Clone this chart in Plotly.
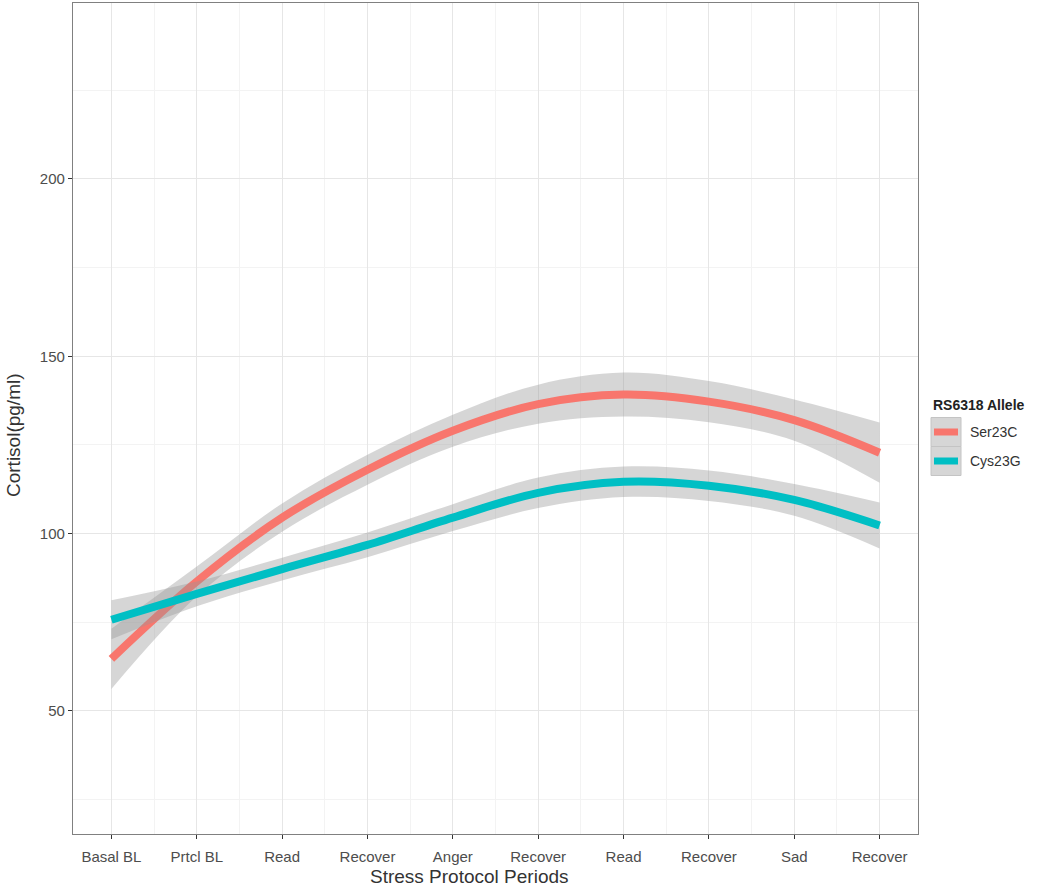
import plotly.graph_objects as go

# ---- data ----
periods = ["Basal BL", "Prtcl BL", "Read", "Recover", "Anger", "Recover", "Read", "Recover", "Sad", "Recover"]
ser_mean = [64.7, 86.5, 104.5, 118.0, 129.0, 136.5, 139.2, 137.2, 132.0, 122.8]
ser_half = [8.5, 4.2, 4.0, 4.2, 4.5, 5.5, 6.2, 5.8, 5.8, 8.5]
cys_mean = [75.7, 83.0, 90.0, 96.8, 104.5, 111.5, 114.6, 113.5, 109.5, 102.3]
cys_half = [5.5, 3.5, 3.2, 3.5, 3.8, 4.3, 4.3, 4.3, 4.5, 6.5]
series = [("Ser23C", ser_mean, ser_half, "#F8766D"), ("Cys23G", cys_mean, cys_half, "#00BFC4")]
y_ticks = [50, 100, 150, 200]

xs = list(range(len(periods)))
FONT = "Liberation Sans, Arial, sans-serif"
RIBBON = "rgba(153,153,153,0.4)"

fig = go.Figure()
for name, m, h, col in series:
    lo = [a - b for a, b in zip(m, h)]
    hi = [a + b for a, b in zip(m, h)]
    fig.add_trace(go.Scatter(x=xs, y=lo, mode="lines", line=dict(width=0, shape="spline"),
                             showlegend=False, hoverinfo="skip"))
    fig.add_trace(go.Scatter(x=xs, y=hi, mode="lines", line=dict(width=0, shape="spline"),
                             fill="tonexty", fillcolor=RIBBON, showlegend=False, hoverinfo="skip"))
    fig.add_trace(go.Scatter(x=xs, y=m, mode="lines", name=name,
                             line=dict(color=col, width=8, shape="spline"), showlegend=False))

# pixel geometry of the panel
W, H = 1050, 888
L, R, T, B = 73, 918, 3, 834

def px(x):
    return (x - L) / (R - L)

def py(y):
    return (B - y) / (B - T)

fig.update_layout(
    width=W, height=H,
    margin=dict(l=L, r=W - R, t=T, b=H - B),
    paper_bgcolor="white", plot_bgcolor="white",
    font=dict(family=FONT, size=15, color="#4D4D4D"),
    showlegend=False,
    xaxis=dict(range=[-0.45, 9.45], tickmode="array", tickvals=xs, ticktext=periods,
               showgrid=True, gridcolor="#E6E6E6", gridwidth=1.3,
               minor=dict(showgrid=True, gridcolor="#F3F3F3", gridwidth=1, tickmode="linear", tick0=0.5, dtick=1),
               ticks="outside", ticklen=4, tickcolor="#333333", tickwidth=1,
               ticklabelstandoff=5,
               showline=True, mirror=True, linecolor="#808080", linewidth=1.2,
               zeroline=False, tickfont=dict(size=15, color="#4D4D4D")),
    yaxis=dict(range=[15.3, 249.6], tickmode="array", tickvals=y_ticks,
               showgrid=True, gridcolor="#E6E6E6", gridwidth=1.3,
               minor=dict(showgrid=True, gridcolor="#F3F3F3", gridwidth=1, tickmode="linear", tick0=25, dtick=50),
               ticks="outside", ticklen=4, tickcolor="#333333", tickwidth=1,
               showline=True, mirror=True, linecolor="#808080", linewidth=1.2,
               zeroline=False, tickfont=dict(size=15, color="#4D4D4D")),
)

annotations = [
    dict(text="Stress Protocol Periods", x=px(469), y=py(877), xref="paper", yref="paper",
         showarrow=False, font=dict(size=19, color="#333333"), xanchor="center", yanchor="middle"),
    dict(text="Cortisol(pg/ml)", x=px(13), y=py(435), xref="paper", yref="paper", textangle=-90,
         showarrow=False, font=dict(size=19, color="#333333"), xanchor="center", yanchor="middle"),
    dict(text="<b>RS6318 Allele</b>", x=px(931), y=py(405), xref="paper", yref="paper",
         showarrow=False, font=dict(size=14, color="#222222"), xanchor="left", yanchor="middle"),
]
shapes = []
key_centers = [432, 461]
for (name, m, h, col), yc in zip(series, key_centers):
    shapes.append(dict(type="rect", xref="paper", yref="paper",
                       x0=px(931), x1=px(961), y0=py(yc - 14.5), y1=py(yc + 14.5),
                       fillcolor="#D6D6D6", line=dict(color="#C4C4C4", width=1)))
    shapes.append(dict(type="line", xref="paper", yref="paper",
                       x0=px(934), x1=px(958), y0=py(yc), y1=py(yc),
                       line=dict(color=col, width=7)))
    annotations.append(dict(text=name, x=px(968), y=py(yc), xref="paper", yref="paper",
                            showarrow=False, font=dict(size=14, color="#333333"),
                            xanchor="left", yanchor="middle"))
fig.update_layout(annotations=annotations, shapes=shapes)

fig.write_html("out.html", config={"displayModeBar": False},
               post_script="document.body.style.margin='0';document.body.style.overflow='hidden';")
